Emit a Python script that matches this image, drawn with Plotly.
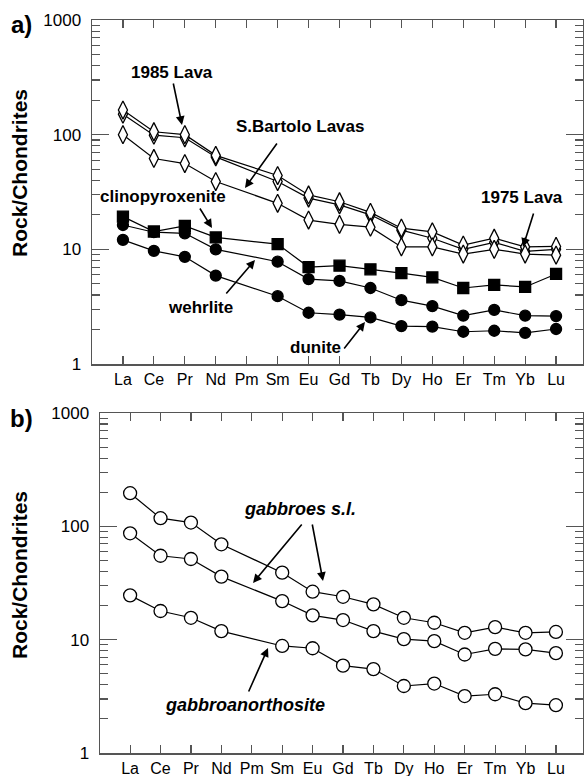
import plotly.graph_objects as go

# ---------------- data ----------------
ree = ["La", "Ce", "Pr", "Nd", "Pm", "Sm", "Eu", "Gd", "Tb", "Dy", "Ho", "Er", "Tm", "Yb", "Lu"]

# panel a
lava_1985 = [164, 106, 100, 66, None, 44, 29.8, 26, 21, 15.3, 14.2, 10.9, 12.5, 10.5, 10.6]
lava_1975 = [151, 99, 94, 64, None, 39, 28, 24.4, 20, 14.7, 12.5, 10.0, 11.5, 9.6, 10.0]
sbartolo = [100, 62, 56, 39, None, 25.2, 18, 16.5, 15.6, 10.5, 10.5, 9.1, 10.0, 9.1, 8.9]
clinopyroxenite = [19.3, 14.3, 16.0, 12.7, None, 11.1, 7.0, 7.2, 6.7, 6.2, 5.7, 4.6, 4.9, 4.7, 6.1]
wehrlite = [16.3, 14.1, 13.8, 10.0, None, 7.8, 5.5, 5.3, 4.6, 3.6, 3.2, 2.64, 2.96, 2.64, 2.62]
dunite = [12.1, 9.7, 8.6, 5.9, None, 3.9, 2.8, 2.7, 2.55, 2.14, 2.12, 1.91, 1.95, 1.87, 2.02]

# panel b
gabbro_1 = [196, 118, 108, 69.4, None, 39, 26.5, 23.9, 20.5, 15.6, 14.1, 11.5, 12.9, 11.5, 11.7]
gabbro_2 = [86.8, 55, 51.5, 36, None, 21.9, 16.4, 14.9, 11.9, 10.1, 9.7, 7.4, 8.3, 8.2, 7.6]
gabbroanorthosite = [24.6, 17.9, 15.6, 11.9, None, 8.8, 8.4, 5.9, 5.5, 3.9, 4.1, 3.18, 3.3, 2.75, 2.64]

y_tickvals = [1, 10, 100, 1000]
y_ticktext = ["1", "10", "100", "1000"]
y_minor = [m * d for d in (1, 10, 100) for m in range(2, 10)]

# ---------------- layout helpers ----------------
W, H = 584, 776
FONT = "Liberation Sans, Arial, Helvetica, sans-serif"
AX = "#555555"


def px(x):
    return x / W


def py(y):
    return 1 - y / H


fig = go.Figure()


def add_series(vals, xa, ya, symbol, size, fill):
    fig.add_trace(go.Scatter(
        x=ree, y=vals, xaxis=xa, yaxis=ya, mode="lines+markers",
        connectgaps=True, showlegend=False, hoverinfo="skip",
        line=dict(color="black", width=1.2),
        marker=dict(symbol=symbol, size=size, color=fill,
                    line=dict(color="black", width=1.3)),
    ))


# panel a series
add_series(lava_1975, "x", "y", "diamond-tall", 13, "white")
add_series(lava_1985, "x", "y", "diamond-tall", 13, "white")
add_series(sbartolo, "x", "y", "diamond-tall", 13, "white")
add_series(clinopyroxenite, "x", "y", "square", 11, "black")
add_series(wehrlite, "x", "y", "circle", 11, "black")
add_series(dunite, "x", "y", "circle", 11, "black")

# panel b series
add_series(gabbro_1, "x2", "y2", "circle", 13, "white")
add_series(gabbro_2, "x2", "y2", "circle", 13, "white")
add_series(gabbroanorthosite, "x2", "y2", "circle", 13, "white")

# invisible traces carrying the mirrored (top / right) tick axes
for xa, ya in (("x3", "y3"), ("x4", "y4")):
    fig.add_trace(go.Scatter(x=ree, y=[None] * len(ree), xaxis=xa, yaxis=ya,
                             mode="markers", showlegend=False, hoverinfo="skip"))


def xaxis(domain, rng, anchor, side="bottom", labels=True, overlay=None):
    d = dict(
        domain=domain, anchor=anchor, type="category", categoryorder="array",
        categoryarray=ree, range=rng, automargin=False, side=side,
        showline=True, linecolor=AX, linewidth=1.5,
        ticks="inside", ticklen=8, tickwidth=1.2, tickcolor=AX,
        showgrid=False, zeroline=False, showticklabels=labels,
        tickfont=dict(family=FONT, size=16, color="black"),
    )
    if overlay:
        d["overlaying"] = overlay
    return d


def yaxis(domain, anchor, side="left", labels=True, overlay=None):
    d = dict(
        domain=domain, anchor=anchor, type="log", range=[0, 3], automargin=False,
        side=side, tickmode="array", tickvals=y_tickvals, ticktext=y_ticktext,
        showline=True, linecolor=AX, linewidth=1.5,
        ticks="inside", ticklen=17, tickwidth=1.2, tickcolor=AX,
        minor=dict(ticks="inside", ticklen=8, tickwidth=1.2, tickcolor=AX,
                   tickmode="array", tickvals=y_minor, showgrid=False),
        showgrid=False, zeroline=False, ticklabelstandoff=6, showticklabels=labels,
        tickfont=dict(family=FONT, size=17, color="black"),
    )
    if overlay:
        d["overlaying"] = overlay
    return d


xa_dom, xb_dom = [px(92), px(583)], [px(100), px(583)]
ya_dom, yb_dom = [py(364), py(20)], [py(753), py(413)]
xa_rng, xb_rng = [-1.0, 14.87], [-0.99, 14.89]

fig.update_layout(
    width=W, height=H, margin=dict(l=0, r=0, t=0, b=0, autoexpand=False),
    paper_bgcolor="white", plot_bgcolor="white",
    xaxis=xaxis(xa_dom, xa_rng, "y"),
    yaxis=yaxis(ya_dom, "x"),
    xaxis2=xaxis(xb_dom, xb_rng, "y2"),
    yaxis2=yaxis(yb_dom, "x2"),
    xaxis3=xaxis(xa_dom, xa_rng, "y3", side="top", labels=False, overlay="x"),
    yaxis3=yaxis(ya_dom, "x3", side="right", labels=False, overlay="y"),
    xaxis4=xaxis(xb_dom, xb_rng, "y4", side="top", labels=False, overlay="x2"),
    yaxis4=yaxis(yb_dom, "x4", side="right", labels=False, overlay="y2"),
    font=dict(family=FONT, color="black"),
    hovermode=False,
)

ann = []


def label(text, x, y, size, italic=False, angle=0):
    t = f"<b><i>{text}</i></b>" if italic else f"<b>{text}</b>"
    ann.append(dict(text=t, x=px(x), y=py(y), xref="paper", yref="paper",
                    xanchor="center", yanchor="middle", showarrow=False,
                    textangle=angle,
                    font=dict(family=FONT, size=size, color="black")))


def arrow(tail, tip):
    ann.append(dict(text="", x=px(tip[0]), y=py(tip[1]), xref="paper", yref="paper",
                    ax=tail[0] - tip[0], ay=tail[1] - tip[1], axref="pixel", ayref="pixel",
                    showarrow=True, arrowhead=2, arrowsize=1.1, arrowwidth=1.6,
                    arrowcolor="black", standoff=0, startstandoff=0))


# y titles
label("Rock/Chondrites", 19, 173, 21, angle=-90)
label("Rock/Chondrites", 19, 575, 21, angle=-90)

# panel labels
label("a)", 21, 25, 24)
label("b)", 21, 418, 24)

# panel a annotations
label("1985 Lava", 172, 72, 17)
arrow((173, 82), (182, 125))
label("S.Bartolo Lavas", 300, 127, 17)
arrow((278, 142), (245, 188))
label("clinopyroxenite", 163, 196, 17)
arrow((199, 207), (212, 228))
label("wehrlite", 200, 308, 17)
arrow((225, 295), (255, 260))
label("dunite", 315, 348, 17)
arrow((343, 350), (365, 322))
label("1975 Lava", 522, 197, 17)
arrow((534, 212), (523, 247))

# panel b annotations
label("gabbroes s.l.", 300, 509, 18, italic=True)
arrow((303, 523), (253, 583))
arrow((312, 523), (323, 581))
label("gabbroanorthosite", 245, 705, 18, italic=True)
arrow((248, 693), (268, 648))

fig.update_layout(annotations=ann)

fig.write_html(
    "out.html",
    config={"displayModeBar": False, "staticPlot": True},
    post_script="document.body.style.margin='0px';document.body.style.overflow='hidden';",
)
